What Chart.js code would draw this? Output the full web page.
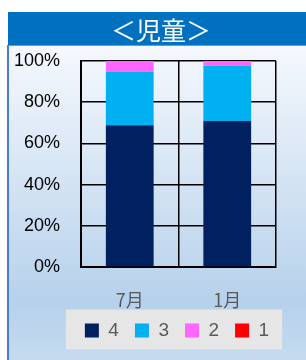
<!DOCTYPE html>
<html>
<head>
<meta charset="utf-8">
<script src="https://cdn.jsdelivr.net/npm/chart.js@4"></script>
<style>
html,body{margin:0;padding:0;background:#fff;}
#wrap{width:306px;height:360px;position:relative;}
</style>
</head>
<body>
<div id="wrap"><canvas id="c" width="306" height="360"></canvas></div>
<script>
const titleText = '＜児童＞';
const categories = ['7月', '1月'];
const seriesNames = ['4', '3', '2', '1'];
const s4 = [68.8, 70.9];
const s3 = [26.0, 26.8];
const s2 = [5.2, 2.3];
const s1 = [0, 0];
const yTicks = [0, 20, 40, 60, 80, 100];
const colors = ['#002060', '#00B0F0', '#FF66FF', '#FF0000'];

const bgPlugin = {
  id: 'bg',
  afterLayout(chart) {
    const lg = chart.legend;
    if (lg) {
      lg.left += 35; lg.right += 35;
      lg.top -= 4; lg.bottom -= 4;
    }
  },
  beforeDraw(chart) {
    const ctx = chart.ctx;
    const W = chart.width, H = chart.height;
    ctx.save();
    ctx.fillStyle = '#ffffff';
    ctx.fillRect(0, 0, W, H);
    const g = ctx.createLinearGradient(0, 46, 0, H);
    g.addColorStop(0, '#f5f8fd');
    g.addColorStop(0.82, '#b6d1eb');
    g.addColorStop(1, '#c5dbf0');
    ctx.fillStyle = g;
    ctx.fillRect(9, 46, W - 9, H - 46);
    ctx.fillStyle = '#0070C0';
    ctx.fillRect(8, 12, W - 8, 34);
    ctx.fillStyle = '#6a98d8';
    ctx.fillRect(8, 45, W - 8, 1);
    ctx.fillStyle = '#4a7bd4';
    ctx.fillRect(7, 45, 2, H - 45);
    // legend background
    const lg = chart.legend;
    if (lg && lg.legendHitBoxes && lg.legendHitBoxes.length) {
      const hb = lg.legendHitBoxes;
      const first = hb[0], last = hb[hb.length - 1];
      const cy = first.top + first.height / 2;
      ctx.fillStyle = '#e6e6e6';
      ctx.fillRect(first.left - 19, cy - 21, (last.left + last.width + 13) - (first.left - 19), 40);
    }
    // title
    ctx.fillStyle = '#ffffff';
    ctx.font = '25px "Noto Sans CJK JP"';
    ctx.textAlign = 'center';
    ctx.textBaseline = 'middle';
    ctx.fillText(titleText, 161, 30);
    ctx.restore();
  }
};

const datasets = [s4, s3, s2, s1].map((d, i) => ({
  label: seriesNames[i],
  data: d,
  backgroundColor: colors[i],
  borderWidth: 0,
  categoryPercentage: 1,
  barPercentage: 0.49
}));

new Chart(document.getElementById('c'), {
  type: 'bar',
  data: { labels: categories, datasets },
  plugins: [bgPlugin],
  options: {
    responsive: false,
    animation: false,
    devicePixelRatio: 1,
    layout: { padding: { left: 8, right: 30, top: 61, bottom: 6 } },
    plugins: {
      title: { display: false },
      tooltip: { enabled: false },
      legend: {
        position: 'bottom',
        labels: {
          boxWidth: 14,
          boxHeight: 14,
          padding: 16,
          color: '#595959',
          font: { family: '"Liberation Sans", Arial, sans-serif', size: 19 }
        }
      }
    },
    scales: {
      x: {
        stacked: true,
        offset: true,
        grid: { display: true, color: '#000', lineWidth: 1.5, drawTicks: false, offset: true },
        border: { display: true, color: '#000', width: 2 },
        ticks: {
          color: '#595959',
          padding: 22,
          font: { family: '"Noto Sans CJK JP", sans-serif', size: 18 }
        },
        afterFit(s) { s.height = 42; }
      },
      y: {
        stacked: true,
        min: 0,
        max: 100,
        afterBuildTicks(s) { s.ticks = yTicks.map(v => ({ value: v })); },
        grid: { color: '#000', lineWidth: 1.5, drawTicks: false },
        border: { display: true, color: '#000', width: 2 },
        ticks: {
          color: '#000',
          padding: 21,
          font: { family: '"Liberation Sans", Arial, sans-serif', size: 18 },
          callback: v => v + '%'
        },
        afterFit(s) { s.width = 73; }
      }
    }
  }
});
</script>
</body>
</html>
